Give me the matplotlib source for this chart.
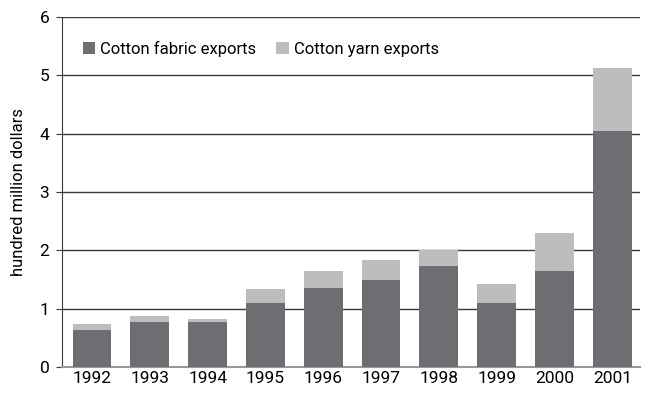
import matplotlib.pyplot as plt
import numpy as np

years = ["1992", "1993", "1994", "1995", "1996", "1997", "1998", "1999", "2000", "2001"]
fabric = [0.63, 0.78, 0.78, 1.09, 1.36, 1.50, 1.74, 1.09, 1.64, 4.05]
yarn_total = [0.73, 0.87, 0.82, 1.33, 1.64, 1.83, 2.00, 1.42, 2.29, 5.12]
yarn = [t - f for t, f in zip(yarn_total, fabric)]

plt.rcParams['font.family'] = ['Roboto', 'DejaVu Sans']

fig = plt.figure(figsize=(6.5, 3.93), dpi=100)
ax = fig.add_axes([62/650, 1 - 367/393, (640-62)/650, (367-17)/393])

x = np.arange(len(years))
ax.bar(x, fabric, width=0.67, color="#6d6e71", label="Cotton fabric exports", zorder=3)
ax.bar(x, yarn, width=0.67, bottom=fabric, color="#bcbdbf", label="Cotton yarn exports", zorder=3)

ax.set_xlim(-0.52, 9.48)
ax.set_ylim(0, 6)
ax.set_yticks(range(7))
ax.set_xticks(x)
ax.set_xticklabels(years)
ax.grid(axis="y", color="#3a3a3a", lw=1, zorder=1)
ax.set_axisbelow(True)
for s in ["top", "right"]:
    ax.spines[s].set_visible(False)
ax.spines["bottom"].set_color("#9a9a9a")
ax.spines["bottom"].set_linewidth(1.5)
ax.spines["left"].set_color("#3a3a3a")
ax.tick_params(axis="x", length=0, labelsize=12.5, pad=3)
ax.tick_params(axis="y", length=4, labelsize=12.5, color="#3a3a3a", pad=5)
ax.set_ylabel("hundred million dollars", fontsize=12)
ax.yaxis.set_label_coords(-0.062, 0.5)

ax.legend(loc="upper left", bbox_to_anchor=(0.01, 0.975), ncol=2, frameon=False,
          fontsize=12, handlelength=0.75, handleheight=0.75, handletextpad=0.3,
          columnspacing=1.2)

fig.savefig("out.png", dpi=100)
